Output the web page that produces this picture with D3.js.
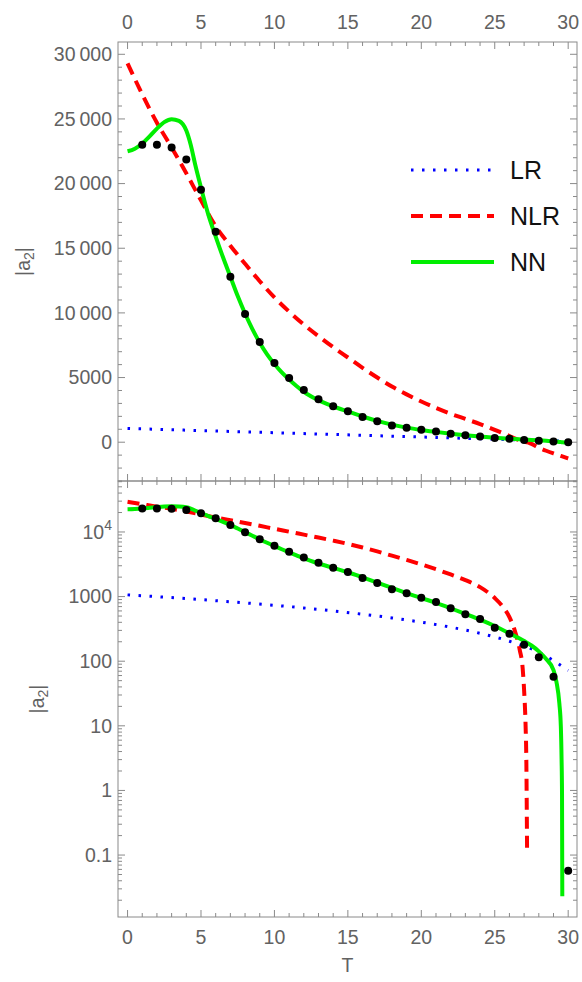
<!DOCTYPE html>
<html>
<head>
<meta charset="utf-8">
<script src="https://cdn.jsdelivr.net/npm/d3@7"></script>
<style>
body { margin: 0; background: #fff; }
text { font-family: "Liberation Sans", Arial, sans-serif; }
</style>
</head>
<body>
<div id="chart_div"></div>
<script>
// values
var dotT = [1,2,3,4,5,6,7,8,9,10,11,12,13,14,15,16,17,18,19,20,21,22,23,24,25,26,27,28,29,30];
var dotA = [23000,23000,22800,21860,19530,16280,12790,9920,7750,6120,4960,4030,3330,2790,2400,1940,1630,1300,1125,962,824,659,532,450,330,267,180,115,57.6,0.057];

var lrT = [0,2,4,6,8,10,12,14,16,18,20,22,24,26,28,30];
var lrA = [1063,997,931,865,799,733,667,600,534,468,402,336,270,204,138,72];

var nlrT = [0,1,2,3,4,5,6,7,8,9,10,11,12,13,14,15,16,17,18,19,20,21,22,23,24,25,25.5,26,26.4,26.7,26.9,27,27.1,27.15,27.2,27.5,28,28.5,29,29.5,30];
var nlrA = [29300,26900,24700,22800,20800,18700,16700,15200,13800,12450,11200,10100,9100,8200,7350,6550,5750,5000,4300,3700,3150,2650,2200,1800,1400,950,720,480,280,150,78,35,10,3,0.13,-130,-420,-660,-870,-1060,-1260];

var nnT = [0,0.5,1,1.5,2,2.5,3,3.5,4,4.3,4.6,5,5.5,6,6.5,7,7.5,8,8.5,9,9.5,10,10.5,11,11.5,12,13,14,15,16,17,18,19,20,21,22,23,24,25,26,27,27.5,28,28.5,29,29.2,29.4,29.5,29.55,29.58,29.6,30];
var nnA = [22500,22700,23100,23650,24250,24750,24980,24850,24100,23000,21500,19700,17600,15900,14300,12800,11300,9950,8750,7700,6800,6050,5400,4850,4350,3900,3250,2780,2380,1990,1650,1360,1130,950,800,660,540,440,350,270,205,175,142,108,73,48,22,9.7,3,0.9,0.023,-30];

var xTickVals = [0,5,10,15,20,25,30];
var linTickVals = [0,5000,10000,15000,20000,25000,30000];
var linTickLabels = ['0','5000','10\u2009000','15\u2009000','20\u2009000','25\u2009000','30\u2009000'];
var logTickVals = [0.1,1,10,100,1000,10000];
var logTickLabels = ['0.1','1','10','100','1000','10^4'];

var legendValues = [
	{'value':'LR','color':'blue','dash':'2.5,8.5','width':3,'y':170},
	{'value':'NLR','color':'red','dash':'12,7','width':4,'y':216},
	{'value':'NN','color':'#00ee00','dash':null,'width':4,'y':262}
];

var W = 582, H = 982;
var left = 118, right = 577, top1 = 42, mid = 481, bot = 917;
var frameColor = '#8a8a8a', labelColor = '#626262';
var fs = 19.5;

var svg = d3.select('#chart_div').append('svg')
	.attr('width', W)
	.attr('height', H);

var x = d3.scaleLinear().domain([-0.65, 30.6]).range([left, right]);
var yLin = d3.scaleLinear().domain([-3000, 30950]).range([mid, top1]);
var yLog = d3.scaleLog().domain([0.011, 61500]).range([bot, mid]);

var defs = svg.append('defs');
defs.append('clipPath').attr('id', 'clipTop').append('rect')
	.attr('x', left).attr('y', top1).attr('width', right - left).attr('height', mid - top1);
defs.append('clipPath').attr('id', 'clipBot').append('rect')
	.attr('x', left).attr('y', mid).attr('width', right - left).attr('height', bot - mid);

// ticks drawn inward on every side of a panel
function xTicks(g, y0, dir, withLabels, labelY) {
	d3.range(0, 31).forEach(function(t) {
		var major = t % 5 == 0;
		g.append('line')
			.attr('x1', x(t)).attr('x2', x(t))
			.attr('y1', y0).attr('y2', y0 + dir * (major ? 7 : 4))
			.attr('stroke', frameColor);
	});
	if (withLabels) {
		g.selectAll(null).data(xTickVals).enter().append('text')
			.attr('x', function(d) { return x(d); })
			.attr('y', labelY)
			.attr('dy', '0.35em')
			.attr('text-anchor', 'middle')
			.attr('font-size', fs)
			.attr('fill', labelColor)
			.text(function(d) { return d; });
	}
}

function yTicks(g, scale, vals, majors) {
	vals.forEach(function(v) {
		var major = majors.indexOf(v) >= 0;
		var len = major ? 7 : 4;
		g.append('line').attr('x1', left).attr('x2', left + len)
			.attr('y1', scale(v)).attr('y2', scale(v)).attr('stroke', frameColor);
		g.append('line').attr('x1', right).attr('x2', right - len)
			.attr('y1', scale(v)).attr('y2', scale(v)).attr('stroke', frameColor);
	});
}

var axes = svg.append('g').attr('class', 'axes');

// top panel
xTicks(axes, top1, 1, true, top1 - 20);
xTicks(axes, mid, -1, false);
yTicks(axes, yLin, d3.range(-3000, 31000, 1000), linTickVals);
axes.selectAll('.ylab1').data(linTickVals).enter().append('text')
	.attr('class', 'ylab1')
	.attr('x', left - 6)
	.attr('y', function(d) { return yLin(d); })
	.attr('dy', '0.35em')
	.attr('text-anchor', 'end')
	.attr('font-size', fs)
	.attr('fill', labelColor)
	.text(function(d, i) { return linTickLabels[i]; });

// bottom panel
xTicks(axes, mid, 1, false);
xTicks(axes, bot, -1, true, bot + 20);
var logVals = [];
[-2,-1,0,1,2,3,4].forEach(function(e) {
	for (var m = 1; m < 10; m++) {
		var v = m * Math.pow(10, e);
		if (v >= 0.011 && v <= 61500) logVals.push(v);
	}
});
yTicks(axes, yLog, logVals, [0.01,0.1,1,10,100,1000,10000]);
var logLab = axes.selectAll('.ylab2').data(logTickVals).enter().append('text')
	.attr('class', 'ylab2')
	.attr('x', left - 6)
	.attr('y', function(d) { return yLog(d); })
	.attr('dy', '0.35em')
	.attr('text-anchor', 'end')
	.attr('font-size', fs)
	.attr('fill', labelColor);
logLab.each(function(d, i) {
	var t = d3.select(this);
	var lab = logTickLabels[i];
	if (lab.indexOf('^') > 0) {
		var parts = lab.split('^');
		t.append('tspan').text(parts[0]);
		t.append('tspan').attr('font-size', 14).attr('dy', '-0.6em').text(parts[1]);
	} else {
		t.text(lab);
	}
});

// frames
axes.append('rect').attr('x', left).attr('y', top1).attr('width', right - left).attr('height', mid - top1)
	.attr('fill', 'none').attr('stroke', frameColor);
axes.append('rect').attr('x', left).attr('y', mid).attr('width', right - left).attr('height', bot - mid)
	.attr('fill', 'none').attr('stroke', frameColor);

// axis titles
function yTitle(cx, cy) {
	var t = svg.append('text')
		.attr('transform', 'translate(' + cx + ',' + cy + ') rotate(-90)')
		.attr('text-anchor', 'middle')
		.attr('dy', '0.35em')
		.attr('font-size', fs)
		.attr('fill', labelColor);
	t.append('tspan').text('|a');
	t.append('tspan').attr('font-size', 14).attr('dy', 4).text('2');
	t.append('tspan').attr('dy', -4).text('|');
}
yTitle(23, (top1 + mid) / 2);
yTitle(37, (mid + bot) / 2);
svg.append('text')
	.attr('x', (left + right) / 2)
	.attr('y', 965)
	.attr('dy', '0.35em')
	.attr('text-anchor', 'middle')
	.attr('font-size', fs)
	.attr('fill', labelColor)
	.text('T');

// series
function pts(ts, as) {
	return ts.map(function(t, i) { return {t: t, a: as[i]}; });
}
var lr = pts(lrT, lrA), nlr = pts(nlrT, nlrA), nn = pts(nnT, nnA), dots = pts(dotT, dotA);

function drawPanel(clip, yScale, isLog) {
	var g = svg.append('g').attr('clip-path', 'url(#' + clip + ')');
	var line = d3.line()
		.curve(d3.curveMonotoneX)
		.x(function(d) { return x(d.t); })
		.y(function(d) { return yScale(d.a); });
	var keep = function(arr) { return isLog ? arr.filter(function(d) { return d.a > 0; }) : arr; };

	g.append('path').datum(keep(lr))
		.attr('d', line).attr('fill', 'none')
		.attr('stroke', 'blue').attr('stroke-width', 3)
		.attr('stroke-dasharray', '2.5,8.5');
	g.append('path').datum(keep(nlr))
		.attr('d', line).attr('fill', 'none')
		.attr('stroke', 'red').attr('stroke-width', 4)
		.attr('stroke-dasharray', '12,7');
	g.append('path').datum(keep(nn))
		.attr('d', line).attr('fill', 'none')
		.attr('stroke', '#00ee00').attr('stroke-width', 4);
	g.selectAll(null).data(keep(dots)).enter().append('circle')
		.attr('cx', function(d) { return x(d.t); })
		.attr('cy', function(d) { return yScale(d.a); })
		.attr('r', 4)
		.attr('fill', 'black');
}
drawPanel('clipTop', yLin, false);
drawPanel('clipBot', yLog, true);

// legend
var legend = svg.selectAll('.legend')
	.data(legendValues)
	.enter()
	.append('g')
	.attr('class', 'legend')
	.attr('transform', function(d) { return 'translate(0,' + d.y + ')'; });

legend.append('line')
	.attr('x1', 411).attr('x2', 494)
	.attr('stroke', function(d) { return d.color; })
	.attr('stroke-width', function(d) { return d.width; })
	.attr('stroke-dasharray', function(d) { return d.dash; });

legend.append('text')
	.attr('x', 510)
	.attr('dy', '0.35em')
	.attr('font-size', 25)
	.attr('fill', '#111')
	.text(function(d) { return d.value; });
</script>
</body>
</html>
